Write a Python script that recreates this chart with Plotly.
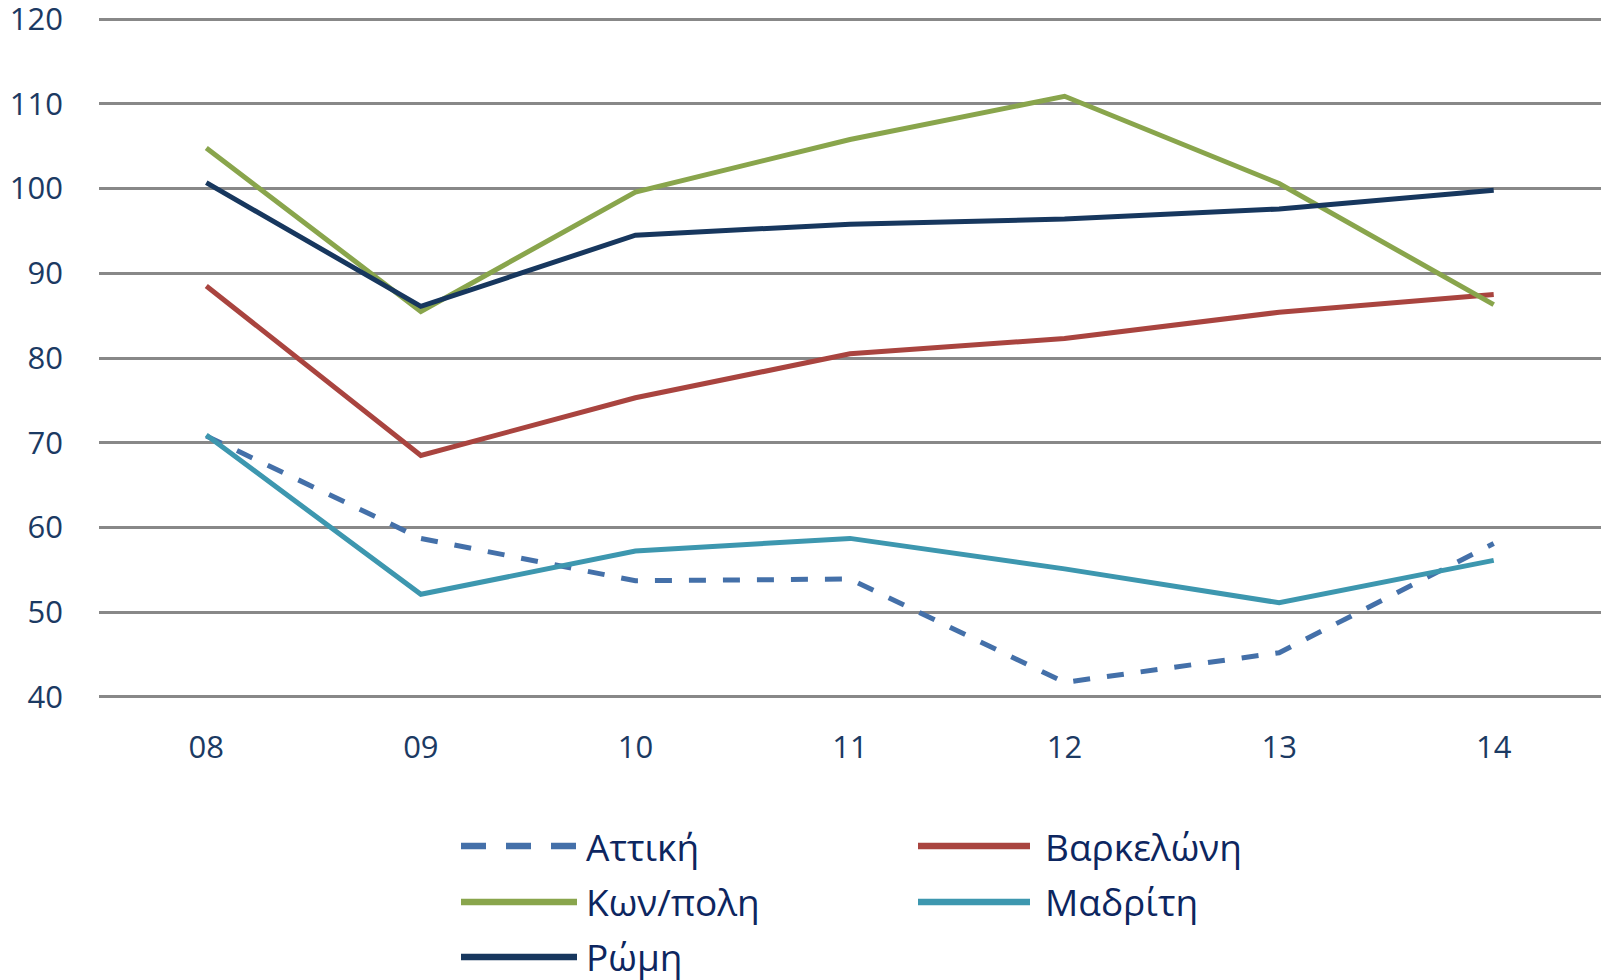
import plotly.graph_objects as go

# ---- data ----
years = ["08", "09", "10", "11", "12", "13", "14"]
attiki = [70.8, 58.7, 53.7, 53.9, 41.7, 45.2, 58.1]
barkeloni = [88.5, 68.5, 75.3, 80.5, 82.3, 85.4, 87.5]
konpoli = [104.8, 85.5, 99.6, 105.8, 110.9, 100.6, 86.3]
madriti = [70.9, 52.1, 57.2, 58.7, 55.1, 51.1, 56.1]
romi = [100.7, 86.1, 94.5, 95.8, 96.4, 97.6, 99.8]
series_names = ["Αττική", "Βαρκελώνη", "Κων/πολη", "Μαδρίτη", "Ρώμη"]
y_ticks = [40, 50, 60, 70, 80, 90, 100, 110, 120]

# ---- styles ----
colors = ["#4470A9", "#A9443F", "#89A54C", "#3D97AF", "#17375E"]
dashes = ["17px,17px", "solid", "solid", "solid", "solid"]
values = [attiki, barkeloni, konpoli, madriti, romi]

W, H = 1601, 980
ML, MR, MT, MB = 99, 0, 14.5, 279.1
TICK_COLOR = "#1B3A63"
LEGEND_TEXT = "#0D2660"
FONT = "Open Sans"

fig = go.Figure()
for name, vals, col, dsh in zip(series_names, values, colors, dashes):
    fig.add_trace(go.Scatter(
        x=years, y=vals, mode="lines", name=name,
        line=dict(color=col, width=5, dash=dsh),
        showlegend=False,
    ))

# ---- custom legend (2 columns, row-major order) ----
plot_w = W - ML - MR
plot_h = H - MT - MB

def px_x(x):
    return (x - ML) / plot_w

def px_y(y):
    return (H - MB - y) / plot_h

col_sym = [(461, 577), (918, 1030)]
col_txt = [584, 1043]
row_y = [846, 902, 957]
legend_dash = ["25px,20px", "solid", "solid", "solid", "solid"]

for i, (name, col) in enumerate(zip(series_names, colors)):
    r, c = divmod(i, 2)
    x0, x1 = col_sym[c]
    yy = px_y(row_y[r])
    fig.add_shape(type="line", xref="paper", yref="paper",
                  x0=px_x(x0), x1=px_x(x1), y0=yy, y1=yy,
                  line=dict(color=col, width=6.5, dash=legend_dash[i]))
    fig.add_annotation(xref="paper", yref="paper", x=px_x(col_txt[c]), y=yy,
                       text=name, showarrow=False, xanchor="left", yanchor="middle",
                       font=dict(family=FONT, size=37, color=LEGEND_TEXT))

fig.update_layout(
    width=W, height=H,
    margin=dict(l=ML, r=MR, t=MT, b=MB, autoexpand=False),
    paper_bgcolor="white", plot_bgcolor="white",
    showlegend=False,
    font=dict(family=FONT, size=31, color=TICK_COLOR),
    xaxis=dict(type="category", range=[-0.5, 6.5], showgrid=False, showline=False,
               zeroline=False, ticks="", ticklabelstandoff=25, automargin=False,
               tickfont=dict(family=FONT, size=31, color=TICK_COLOR)),
    yaxis=dict(range=[39.5, 120.5], tickvals=y_ticks, showgrid=True,
               gridcolor="#888888", gridwidth=2.8, showline=False, zeroline=False,
               ticks="", ticklabelstandoff=35, automargin=False,
               ticklabeloverflow="allow",
               tickfont=dict(family=FONT, size=31, color=TICK_COLOR)),
)

fig.write_html(
    "out.html",
    config={"displayModeBar": False},
    post_script="document.body.style.margin='0';document.body.style.overflow='hidden';",
)
